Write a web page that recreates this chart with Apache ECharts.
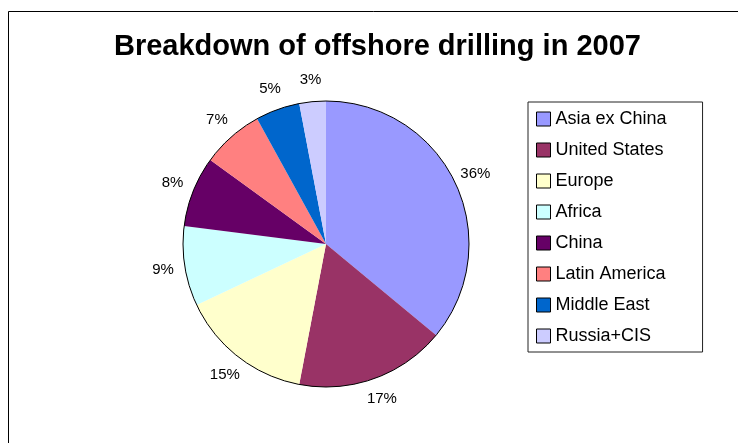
<!DOCTYPE html>
<html>
<head>
<meta charset="utf-8">
<script src="https://cdn.jsdelivr.net/npm/echarts@6/dist/echarts.min.js"></script>
<style>
  html, body { margin: 0; padding: 0; background: #fff; }
  #chart { width: 738px; height: 443px; }
</style>
</head>
<body>
<div id="chart"></div>
<script>
// Regions and their share of offshore drilling (percent)
const regions = ['Asia ex China', 'United States', 'Europe', 'Africa', 'China', 'Latin America', 'Middle East', 'Russia+CIS'];
const shares = [36, 17, 15, 9, 8, 7, 5, 3];
const sliceColors = ['#9999FF', '#993366', '#FFFFCC', '#CCFFFF', '#660066', '#FF8080', '#0066CC', '#CCCCFF'];
const titleText = 'Breakdown of offshore drilling in 2007';

const FONT = 'Arial, "Liberation Sans", sans-serif';
const pieCenter = [326, 244];
const pieRadius = 143;
const labelRadius = 165;

const total = shares.reduce((a, b) => a + b, 0);
const starts = [];
shares.reduce((acc, v, i) => { starts[i] = acc; return acc + v; }, 0);

const chart = echarts.init(document.getElementById('chart'), null, { renderer: 'canvas' });

chart.setOption({
  backgroundColor: '#ffffff',
  animation: false,
  title: {
    text: titleText,
    left: 114,
    top: 32,
    padding: 0,
    textStyle: { fontFamily: FONT, fontSize: 29, fontWeight: 'bold', color: '#000' }
  },
  legend: {
    orient: 'vertical',
    left: 528,
    top: 102,
    data: regions,
    padding: [8, 36, 7, 8],
    itemWidth: 14,
    itemHeight: 14,
    itemGap: 13,
    borderColor: '#222',
    borderWidth: 1,
    icon: 'rect',
    itemStyle: { borderColor: '#000', borderWidth: 1 },
    textStyle: { fontFamily: FONT, fontSize: 18, color: '#000' },
    selectedMode: false
  },
  graphic: [{
    type: 'rect',
    silent: true,
    shape: { x: 8.5, y: 11.5, width: 800, height: 500 },
    style: { fill: 'none', stroke: '#000', lineWidth: 1 }
  }],
  series: [
    {
      type: 'pie',
      center: pieCenter,
      radius: [0, pieRadius],
      startAngle: 90,
      clockwise: true,
      avoidLabelOverlap: false,
      silent: true,
      data: regions.map((name, i) => ({ name: name, value: shares[i], itemStyle: { color: sliceColors[i] } })),
      itemStyle: { borderWidth: 0 },
      label: {
        show: true,
        position: 'outside',
        formatter: p => p.value + '%',
        fontFamily: FONT,
        fontSize: 15,
        color: '#000'
      },
      labelLine: { show: false },
      labelLayout: function (p) {
        const i = p.dataIndex;
        const mid = (starts[i] + shares[i] / 2) / total * Math.PI * 2;
        return {
          x: pieCenter[0] + labelRadius * Math.sin(mid),
          y: pieCenter[1] - labelRadius * Math.cos(mid),
          align: 'center',
          verticalAlign: 'middle'
        };
      }
    },
    {
      // thin outline round the whole pie
      type: 'pie',
      center: pieCenter,
      radius: [0, pieRadius],
      silent: true,
      label: { show: false },
      labelLine: { show: false },
      data: [{ value: 1, name: '', itemStyle: { color: 'rgba(0,0,0,0)', borderColor: '#000', borderWidth: 1 } }]
    }
  ]
});
</script>
</body>
</html>
